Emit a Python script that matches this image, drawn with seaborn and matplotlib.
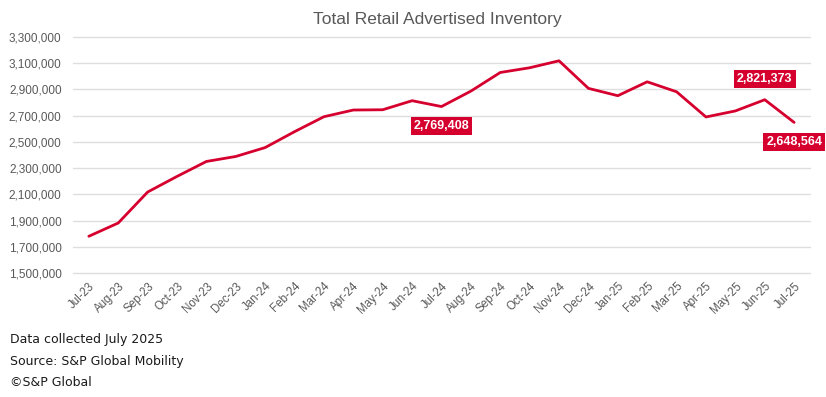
import numpy as np
import pandas as pd
import matplotlib
matplotlib.use('Agg')
import matplotlib.pyplot as plt
import matplotlib.ticker as ticker
import seaborn as sns

months = ['Jul-23', 'Aug-23', 'Sep-23', 'Oct-23', 'Nov-23', 'Dec-23', 'Jan-24',
          'Feb-24', 'Mar-24', 'Apr-24', 'May-24', 'Jun-24', 'Jul-24', 'Aug-24',
          'Sep-24', 'Oct-24', 'Nov-24', 'Dec-24', 'Jan-25', 'Feb-25', 'Mar-25',
          'Apr-25', 'May-25', 'Jun-25', 'Jul-25']
inventory = [1781000, 1882000, 2118000, 2237000, 2351000, 2389000, 2457000,
             2578000, 2692000, 2743000, 2745000, 2814000, 2769408, 2887000,
             3029000, 3065000, 3118000, 2908000, 2852000, 2958000, 2882000,
             2690000, 2736000, 2821373, 2648564]
y_ticks = [1500000, 1700000, 1900000, 2100000, 2300000, 2500000, 2700000,
           2900000, 3100000, 3300000]
callouts = ['Jul-24', 'Jun-25', 'Jul-25']
callout_pos = ['below', 'above', 'below']
footer = ['Data collected July 2025', 'Source: S&P Global Mobility', '\u00a9S&P Global']

RED = '#D6002F'
GRID = '#DEDEDE'
TEXT_GRAY = '#595959'

sns.set_theme(style='white')
plt.rcParams['font.family'] = ['Liberation Sans', 'DejaVu Sans']

df = pd.DataFrame({'month': months, 'inventory': inventory})
df['x'] = np.arange(len(df))

fig = plt.figure(figsize=(8.26, 3.97), dpi=100)
ax = fig.add_axes([0.088, 0.312, 0.893, 0.595])

sns.lineplot(data=df, x='x', y='inventory', color=RED, linewidth=2, ax=ax)

ax.set_ylim(y_ticks[0], y_ticks[-1])
ax.set_xlim(-0.55, len(df) - 0.45)
ax.set_yticks(y_ticks)
ax.yaxis.set_major_formatter(ticker.FuncFormatter(lambda v, p: f'{int(v):,}'))
ax.grid(axis='y', color=GRID, linewidth=1, clip_on=False)
ax.set_axisbelow(True)
for s in ax.spines.values():
    s.set_visible(False)

ax.set_xticks(df['x'])
ax.set_xticklabels(df['month'], rotation=45, ha='right', rotation_mode='anchor')
ax.tick_params(axis='x', labelsize=8.3, colors=TEXT_GRAY, length=0, pad=5)
ax.tick_params(axis='y', labelsize=8.5, colors=TEXT_GRAY, length=0, pad=8)
ax.set_xlabel('')
ax.set_ylabel('')

for m, pos in zip(callouts, callout_pos):
    row = df[df['month'] == m].iloc[0]
    off = -14 if pos == 'below' else 15
    ax.annotate(f"{row['inventory']:,}", (row['x'], row['inventory']),
                xytext=(0, off), textcoords='offset points',
                ha='center', va='center', color='white', fontsize=9,
                fontweight='bold',
                bbox=dict(boxstyle='square,pad=0.25', fc=RED, ec='none'))

fig.text(0.529, 0.95, 'Total Retail Advertised Inventory', ha='center',
         va='center', fontsize=12.5, color=TEXT_GRAY)

for i, t in enumerate(footer):
    fig.text(0.012, 1 - (340 + 21.5 * i) / 397, t, ha='left', va='center',
             fontsize=9, color='#1a1a1a', family=['DejaVu Sans'])

fig.savefig('out.png', dpi=100)
